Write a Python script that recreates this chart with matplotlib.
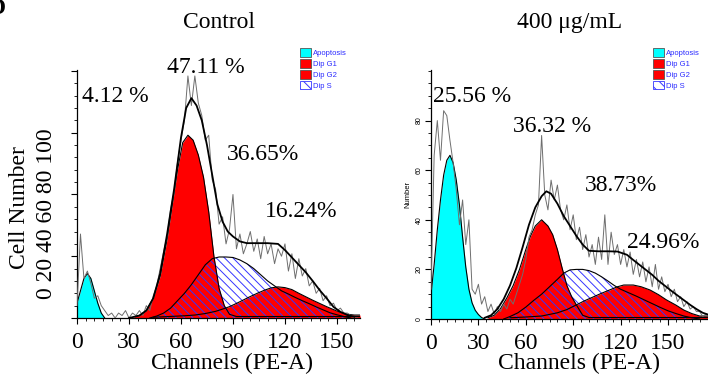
import numpy as np
import matplotlib
matplotlib.use('Agg')
import matplotlib.pyplot as plt
from matplotlib.patches import Patch
from matplotlib.ticker import MultipleLocator

SERIF = ['Liberation Serif', 'DejaVu Serif']
SANS = ['Liberation Sans', 'DejaVu Sans']
plt.rcParams['font.family'] = SERIF
plt.rcParams['hatch.linewidth'] = 0.7

RED = '#ff0000'
CYAN = '#00ffff'
BLUE = '#3535ff'

# ---------------- Control panel data ----------------
L_raw_ch = np.arange(0, 164, 2)
L_raw = [5, 34, 16, 19, 14, 8, 9, 5, 3, 1, 2, 0, 2, 1, 3, 0, 2, 1, 3, 1,
         5, 3, 9, 13, 20, 27, 33, 44, 51, 63, 72, 80, 98, 86, 98, 87, 82, 72, 74, 56,
         52, 38, 41, 30, 36, 50, 28, 34, 26, 30, 35, 27, 32, 24, 33, 26, 30, 22, 28, 25,
         30, 19, 26, 16, 24, 17, 20, 13, 15, 10, 12, 7, 9, 5, 6, 3, 4, 2, 2, 1,
         0, 0]
L_fit_ch = [30, 36, 40, 44, 48, 52, 56, 60, 63, 66, 69, 72, 75, 78, 81, 84, 87, 90,
            94, 98, 104, 110, 116, 120, 124, 128, 132, 136, 140, 144, 148, 152, 156, 160]
L_fit = [0, 1, 3, 8, 18, 34, 52, 73, 85, 89, 86, 80, 70, 58, 46, 39, 35, 33,
         31, 30.3, 30.3, 30.3, 30, 27.5, 24.5, 21.5, 18.5, 15, 11.3, 8, 4.5, 2.5, 1.2, 0.5]
L_apo_ch = [0, 2, 4, 6, 8, 10, 12, 14, 16]
L_apo = [6, 11, 16, 18, 16, 11, 6, 2, 0]
L_g1_ch = [33, 36, 40, 44, 48, 52, 55, 58, 61, 64, 67, 70, 73, 76, 79, 82, 85, 88, 92, 163.3]
L_g1 = [0.5, 1, 3, 8, 17, 32, 46, 60, 71, 74, 72, 66, 57, 43, 25, 12, 5, 1.5, 0.6, 0.6]
L_s_ch = [42, 46, 50, 54, 58, 62, 66, 70, 74, 78, 82, 86, 90, 94, 98, 102, 106, 110,
          114, 118, 122, 126, 130, 134, 138, 142, 146, 150, 154, 158]
L_s = [0, 0.8, 2, 4, 7, 10, 13.5, 17.5, 21.5, 24, 24.7, 24.7, 24.5, 23.5, 22, 20, 17.5, 15,
       13, 11, 9.7, 8.3, 7, 5.8, 4.5, 3.3, 2.1, 1.3, 0.6, 0]
L_g2_ch = [44, 50, 56, 62, 68, 74, 80, 84, 88, 92, 96, 100, 104, 108, 112, 116, 120, 124,
           128, 132, 136, 140, 144, 148, 152, 156, 160, 163.3]
L_g2 = [0.3, 0.5, 0.7, 0.9, 1.2, 1.8, 2.7, 3.6, 4.6, 5.9, 7.3, 8.7, 10, 11.2, 12.2, 12.6, 12.3, 11.5,
        10, 8.6, 7.2, 5.9, 4.6, 3.4, 2.3, 1.5, 1.2, 1.2]
L_pct = ['4.12 %', '47.11 %', '36.65%', '16.24%']
L_pct_x = [2.9, 51.9, 86.6, 108.5]
L_pct_y = [87.4, 99.2, 64.0, 40.9]

# ---------------- 400 ug/mL panel data ----------------
R_raw_ch = np.arange(0, 176, 2)
R_raw = [12, 66, 80, 64, 84, 82, 72, 63, 52, 38, 48, 30, 40, 12, 10, 14, 6, 9, 3, 6,
         2, 5, 3, 6, 4, 8, 6, 10, 14, 18, 24, 33, 36, 42, 46, 74, 50, 44, 56, 48,
         54, 44, 40, 46, 36, 42, 32, 37, 28, 34, 25, 30, 22, 33, 24, 42, 22, 35, 26, 30,
         22, 28, 21, 27, 18, 24, 17, 23, 15, 21, 13, 22, 12, 17, 11, 14, 9, 12, 7, 9,
         5, 7, 4, 5, 3, 3, 1, 2]
R_fit_ch = [34, 38, 42, 46, 50, 54, 58, 62, 66, 70, 73, 76, 80, 84, 88, 92, 96, 100,
            106, 112, 118, 124, 128, 132, 136, 140, 144, 148, 152, 156, 160, 164, 168, 172, 175.3]
R_fit = [0.5, 1.5, 4, 8, 13.5, 20.5, 29, 38, 45, 49.5, 51.5, 50.5, 46.5, 41.5, 37.5, 33.5, 30, 27.5,
         27.3, 27.3, 27.2, 25.9, 23.8, 21.8, 19.8, 17.8, 15.4, 13.4, 11.4, 9.5, 7.6, 5.7, 4, 2.5, 1.8]
R_apo_ch = [0, 2, 4, 6, 8, 10, 12, 14, 16, 18, 20, 22, 24, 26, 28, 30, 32, 34]
R_apo = [10, 22, 36, 48, 58, 64, 66, 63, 56, 46, 33, 21, 12, 6.5, 3.5, 1.8, 0.6, 0]
R_g1_ch = [36, 40, 44, 48, 52, 56, 60, 63, 66, 70, 74, 77, 80, 83, 86, 89, 92, 96, 100, 175.3]
R_g1 = [0.5, 1.5, 4.2, 8.5, 13.5, 20, 28, 33.5, 37.5, 40, 37.5, 34, 28, 20.5, 13.5, 9, 5.7, 1.5, 0.6, 0.6]
R_s_ch = [46, 50, 55, 60, 65, 70, 75, 80, 84, 88, 92, 96, 100, 104, 108, 112, 116, 120,
          125, 130, 135, 140, 145, 150, 155, 160, 165, 170]
R_s = [0, 1, 2.5, 4.8, 7.5, 10, 13, 16, 18.5, 19.8, 20, 20, 19.5, 18.5, 17, 15.3, 13.5, 12,
       10.6, 9.2, 7.7, 6.2, 4.7, 3.3, 2.2, 1.2, 0.5, 0]
R_g2_ch = [50, 60, 70, 80, 86, 92, 97, 103, 108, 113, 118, 122, 128, 133, 138.6, 144, 149,
           155, 160, 165, 170, 175.3]
R_g2 = [0.5, 0.8, 1.2, 2.5, 3.8, 5.7, 7.3, 9, 10.4, 11.7, 13, 13.7, 13.7, 13, 11.7, 9.8, 7.7,
        5.6, 3.6, 2.2, 1.2, 1.2]
R_pct = ['25.56 %', '36.32 %', '38.73%', '24.96%']
R_pct_x = [1.3, 51.9, 97.5, 124.0]
R_pct_y = [87.3, 75.2, 51.7, 28.7]

# ---------------- shared text ----------------
titles = ['Control', '400 μg/mL']
x_label = 'Channels (PE-A)'
x_ticks = [0, 30, 60, 90, 120, 150]
x_ticklabels = ['0', '30', '60', '90', '120', '150']
left_ylabels_overlay = ['0', '20', '40', '60', '80', '100']
right_yticks = [0, 20, 40, 60, 80]
right_yticklabels = ['0', '20', '40', '60', '80']
legend_labels = ['Apoptosis', 'Dip G1', 'Dip G2', 'Dip S']

W, H = 708, 380
fig = plt.figure(figsize=(W / 100, H / 100), dpi=100)

axL = fig.add_axes([77 / W, (H - 318) / H, (360 - 77) / W, (318 - 70) / H])
axR = fig.add_axes([431 / W, (H - 319) / H, (708 - 431) / W, (319 - 70) / H])


def draw(ax, apo_ch, apo, g1_ch, g1, g2_ch, g2, s_ch, s, raw_ch, raw, fit_ch, fit, xmax):
    ax.fill_between(g2_ch, g2, color=RED, lw=0, zorder=2)
    ax.fill_between(g1_ch, g1, color=RED, lw=0, zorder=2)
    ax.fill_between(apo_ch, apo, color=CYAN, lw=0, zorder=2)
    ax.fill_between(s_ch, s, facecolor='none', edgecolor=BLUE, hatch='\\\\\\\\',
                    lw=0, zorder=3)
    for c, v in ((g2_ch, g2), (g1_ch, g1), (apo_ch, apo), (s_ch, s)):
        ax.plot(c, v, color='black', lw=0.8, zorder=4)
    ax.plot(raw_ch, raw, color='#6e6e6e', lw=0.7, zorder=5)
    ax.plot(fit_ch, fit, color='black', lw=1.3, zorder=6)
    ax.set_xlim(0, xmax)
    ax.set_ylim(0, 100.4)
    for sp in ('top', 'right'):
        ax.spines[sp].set_visible(False)
    for sp in ('left', 'bottom'):
        ax.spines[sp].set_linewidth(0.9)
    ax.set_xticks(x_ticks)
    ax.set_xticklabels(x_ticklabels, fontsize=17, family=SERIF)
    ax.xaxis.set_minor_locator(MultipleLocator(5))
    ax.yaxis.set_minor_locator(MultipleLocator(5))
    ax.tick_params(axis='x', which='major', length=4, width=0.8, pad=6)
    ax.tick_params(axis='x', which='minor', length=2.2, width=0.6)
    ax.tick_params(axis='y', which='major', length=4, width=0.8)
    ax.tick_params(axis='y', which='minor', length=2.2, width=0.6)
    ax.patch.set_alpha(0)


draw(axL, L_apo_ch, L_apo, L_g1_ch, L_g1, L_g2_ch, L_g2, L_s_ch, L_s,
     L_raw_ch, L_raw, L_fit_ch, L_fit, 163.3)
draw(axR, R_apo_ch, R_apo, R_g1_ch, R_g1, R_g2_ch, R_g2, R_s_ch, R_s,
     R_raw_ch, R_raw, R_fit_ch, R_fit, 175.3)

# y ticks
axL.set_yticks([0, 25, 50, 75, 100])
axL.tick_params(axis='y', labelleft=False)
axR.set_yticks(right_yticks)
axR.set_yticklabels(right_yticklabels, fontsize=5, family=SANS, rotation=90, va='center')
axR.tick_params(axis='y', which='major', pad=2)

# titles
for ax, t in zip((axL, axR), titles):
    ax.set_title(t, fontsize=17, family=SERIF, pad=30)

# x labels
axL.set_xlabel(x_label, fontsize=17)
axL.xaxis.set_label_coords((232 - 77) / 283, -(353 - 318) / 248)
axR.set_xlabel(x_label, fontsize=17)
axR.xaxis.set_label_coords((579.5 - 431) / 277, -(353 - 319) / 249)

# y labels
axL.set_ylabel('Cell Number', fontsize=17)
axL.yaxis.set_label_coords((30 - 77) / 283, (318 - 207.5) / 248)
axR.set_ylabel('Number', fontsize=5.5, family=SANS)
axR.yaxis.set_label_coords((411 - 431) / 277, (319 - 195) / 249)

# overlaid y-number string on left panel
axL.text((52 - 77) / 283, (318 - 214) / 248, ' '.join(left_ylabels_overlay),
         transform=axL.transAxes, rotation=90, rotation_mode='anchor',
         ha='center', va='baseline', fontsize=17)

# percentages
for ax, labs, xs, ys in ((axL, L_pct, L_pct_x, L_pct_y), (axR, R_pct, R_pct_x, R_pct_y)):
    for lab, x, y in zip(labs, xs, ys):
        ax.text(x, y, lab, fontsize=17, ha='left', va='baseline', zorder=10)

# legends
handles = [Patch(facecolor=CYAN, edgecolor='#555555', lw=0.6),
           Patch(facecolor=RED, edgecolor='#555555', lw=0.6),
           Patch(facecolor=RED, edgecolor='#555555', lw=0.6),
           Patch(facecolor='white', edgecolor='#3535ff', lw=0.6, hatch='\\\\\\')]
for lx in (300, 653):
    fig.legend(handles, legend_labels, loc='upper left',
               bbox_to_anchor=(lx / W, 1 - 48 / H), frameon=False,
               prop={'family': SANS, 'size': 5.5}, labelcolor='#2a2aff',
               handlelength=1.45, handleheight=1.4, labelspacing=0.25,
               handletextpad=0.3, borderpad=0, borderaxespad=0)

# partial panel letter at top-left (cut by the edge, as in the reference)
fig.text(5.5 / W, 1 - 14 / H, 'D', fontsize=17, fontweight='bold', ha='right',
         va='baseline')

fig.savefig('out.png', dpi=100)
